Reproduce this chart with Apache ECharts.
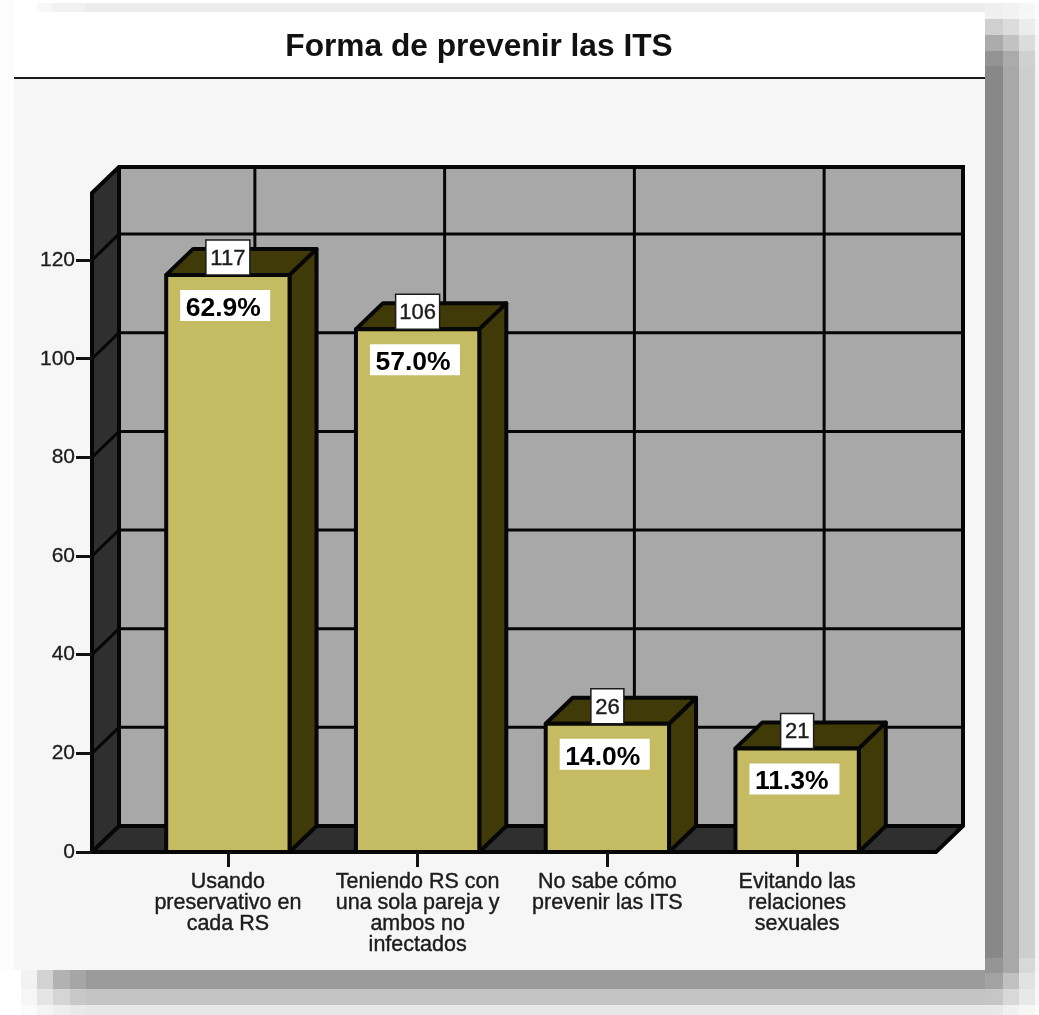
<!DOCTYPE html>
<html><head><meta charset="utf-8">
<style>html,body{margin:0;padding:0;background:#fff}#c{width:1039px;height:1015px}</style>
<script src="https://cdn.jsdelivr.net/npm/echarts@6/dist/echarts.min.js"></script>
</head><body><div id="c"></div>
<script>
const titleText = 'Forma de prevenir las ITS';
const categories = ['Usando\npreservativo en\ncada RS','Teniendo RS con\nuna sola pareja y\nambos no\ninfectados','No sabe cómo\nprevenir las ITS','Evitando las\nrelaciones\nsexuales'];
const counts = [117,106,26,21];
const percents = ['62.9%','57.0%','14.0%','11.3%'];
const yTicks = [0,20,40,60,80,100,120];
const yMax = 133.6;

const DX = 27, DY = -26;
const FONT = '"Liberation Sans", Arial, sans-serif';
const BLACK = '#060606';

// drop-shadow tiles (x0,x1,y0,y1,colour)
const shadowTiles = [];
function tiles(xs, ys, rows){
  rows.forEach((r,j)=>r.forEach((c,i)=>{ if(c) shadowTiles.push([xs[i],xs[i+1],ys[j],ys[j+1],c]); }));
}
tiles([985,1003,1019,1035,1039],[3,12,19,35,51,66,958,973,989,1005,1015],[
 ['#efefef','#f2f2f2','#f6f6f6','#fdfdfd'],
 ['#f0f0f0','#f2f2f2','#f8f8f8','#fdfdfd'],
 ['#cfcfcf','#dcdcdc','#ececec','#fafafa'],
 ['#ababab','#c2c2c2','#dcdcdc','#f6f6f6'],
 ['#939393','#ababab','#d0d0d0','#f4f4f4'],
 ['#888888','#a8a8a8','#cecece','#f3f3f3'],
 ['#959595','#a8a8a8','#d8d8d8','#f5f5f5'],
 ['#a3a3a3','#c0c0c0','#e2e2e2','#f7f7f7'],
 ['#c6c6c6','#d8d8d8','#e8e8e8','#f8f8f8'],
 ['#e8e8e8','#f0f0f0','#f6f6f6','#fcfcfc']
]);
tiles([21,37,53,70,86,985],[970,989,1005,1015],[
 ['#f2f2f2','#d2d2d2','#b2b2b2','#a6a6a6','#9b9b9b'],
 ['#f6f6f6','#e5e5e5','#d5d5d5','#c8c8c8','#c4c4c4'],
 ['#fbfbfb','#f4f4f4','#eeeeee','#e9e9e9','#e7e7e7']
]);
tiles([37,52,85,985],[3,12],[['#f8f8f8','#f2f2f2','#ececec']]);

const decor = shadowTiles.map(t=>({type:'rect',silent:true,z:0,
  shape:{x:t[0],y:t[2],width:t[1]-t[0],height:t[3]-t[2]},style:{fill:t[4]}}));
decor.push({type:'rect',silent:true,z:0,shape:{x:0,y:0,width:14,height:970},style:{fill:'#fcfcfc'}});
decor.push({type:'rect',silent:true,z:1,shape:{x:14,y:12,width:971,height:958},style:{fill:'#f6f6f7'}});
decor.push({type:'rect',silent:true,z:1,shape:{x:14,y:12,width:971,height:66},style:{fill:'#ffffff'}});
decor.push({type:'rect',silent:true,z:1,shape:{x:14,y:77,width:971,height:2},style:{fill:'#1a1a1a'}});

const L = 92, R = 936;

function renderWalls(params, api){
  const y0 = api.coord([0,0])[1], yT = api.coord([0,yMax])[1];
  const lines = {lineWidth:3, stroke:BLACK};
  const ch = [];
  // back wall
  ch.push({type:'rect',shape:{x:L+DX,y:yT+DY,width:R-L,height:y0-yT},style:{fill:'#a8a8a9'}});
  // left wall
  ch.push({type:'polygon',shape:{points:[[L,yT],[L+DX,yT+DY],[L+DX,y0+DY],[L,y0]]},style:{fill:'#2f2f2f'}});
  // floor
  ch.push({type:'polygon',shape:{points:[[L,y0],[L+DX,y0+DY],[R+DX,y0+DY],[R,y0]]},style:{fill:'#2f2f2f'}});
  // horizontal grid
  yTicks.forEach(v=>{
    const y = api.coord([0,v])[1];
    if(v>0){
      ch.push({type:'polyline',shape:{points:[[L,y],[L+DX,y+DY],[R+DX,y+DY]]},style:{fill:'none',...lines}});
    }
  });
  // vertical grid
  categories.forEach((c,i)=>{
    const x = api.coord([i,0])[0]+DX;
    ch.push({type:'line',shape:{x1:x,y1:yT+DY,x2:x,y2:y0+DY},style:lines});
    ch.push({type:'line',shape:{x1:x-DX,y1:y0,x2:x,y2:y0+DY},style:lines});
  });
  // outlines
  ch.push({type:'polygon',shape:{points:[[L,yT],[L+DX,yT+DY],[R+DX,yT+DY],[R+DX,y0+DY],[R,y0],[L,y0]]},style:{fill:'none',stroke:BLACK,lineWidth:4}});
  ch.push({type:'polyline',shape:{points:[[L,y0],[L+DX,y0+DY],[R+DX,y0+DY]]},style:{fill:'none',stroke:BLACK,lineWidth:4}});
  ch.push({type:'line',shape:{x1:L+DX,y1:yT+DY,x2:L+DX,y2:y0+DY},style:{stroke:BLACK,lineWidth:4}});
  return {type:'group',children:ch};
}

function renderBar(params, api){
  const i = api.value(0), v = api.value(1);
  const base = api.coord([i,0]), top = api.coord([i,v]);
  const w = api.size([1,0])[0]*0.65;
  const x0 = base[0]-w/2, x1 = base[0]+w/2, y0 = base[1], y1 = top[1];
  const st = {stroke:BLACK,lineWidth:4,lineJoin:'round'};
  const label = String(counts[params.dataIndex]);
  const bw = label.length>2 ? 44 : 33;
  const cx = base[0];
  return {type:'group',children:[
    {type:'polygon',shape:{points:[[x1,y0],[x1+DX,y0+DY],[x1+DX,y1+DY],[x1,y1]]},style:{fill:'#403a08',...st}},
    {type:'polygon',shape:{points:[[x0,y1],[x0+DX,y1+DY],[x1+DX,y1+DY],[x1,y1]]},style:{fill:'#403a08',...st}},
    {type:'rect',shape:{x:x0,y:y1,width:x1-x0,height:y0-y1},style:{fill:'#c4bb62',...st}},
    {type:'rect',shape:{x:cx-bw/2,y:y1-35,width:bw,height:35},style:{fill:'#ffffff',stroke:'#1c1c1c',lineWidth:1.5}},
    {type:'text',style:{text:label,x:cx,y:y1-16,align:'center',verticalAlign:'middle',fill:'#1c1c1c',font:'22px '+FONT,stroke:'#1c1c1c',lineWidth:0.4}},
    {type:'rect',shape:{x:x0+14,y:y1+15,width:90,height:31},style:{fill:'#ffffff'}},
    {type:'text',style:{text:percents[params.dataIndex],x:x0+19.5,y:y1+33.5,align:'left',verticalAlign:'middle',fill:'#000000',font:'bold 26.5px '+FONT}}
  ]};
}

const chart = echarts.init(document.getElementById('c'),null,{renderer:'canvas'});
chart.setOption({
  animation:false,
  backgroundColor:'#ffffff',
  title:{text:titleText,left:474,top:26,textAlign:'center',z:6,
    textStyle:{fontFamily:FONT,fontWeight:'bold',fontSize:31.7,color:'#111111'}},
  graphic:{elements:decor},
  grid:{left:133,width:759,top:193,height:659},
  xAxis:{type:'category',data:categories,z:5,
    axisLine:{show:false},
    axisTick:{show:true,alignWithLabel:true,length:15,lineStyle:{color:'#111',width:3}},
    axisLabel:{interval:0,margin:20,fontFamily:FONT,fontSize:21.5,lineHeight:21,color:'#1c1c1c',
      textBorderColor:'#1c1c1c',textBorderWidth:0.4,verticalAlign:'top',align:'center'},
    splitLine:{show:false}},
  yAxis:{type:'value',min:0,max:yMax,offset:41,z:5,
    axisLine:{show:false},
    axisTick:{show:true,length:16,customValues:yTicks,lineStyle:{color:'#111',width:3}},
    axisLabel:{margin:17,customValues:yTicks,fontFamily:FONT,fontSize:21,color:'#1c1c1c',
      textBorderColor:'#1c1c1c',textBorderWidth:0.3},
    splitLine:{show:false}},
  series:[
    {type:'custom',clip:false,z:2,silent:true,renderItem:renderWalls,data:[[0,0]],encode:{x:0,y:1}},
    {type:'custom',clip:false,z:3,silent:true,renderItem:renderBar,
      data:counts.map((v,i)=>[i,v]),encode:{x:0,y:1}}
  ]
});
</script></body></html>
